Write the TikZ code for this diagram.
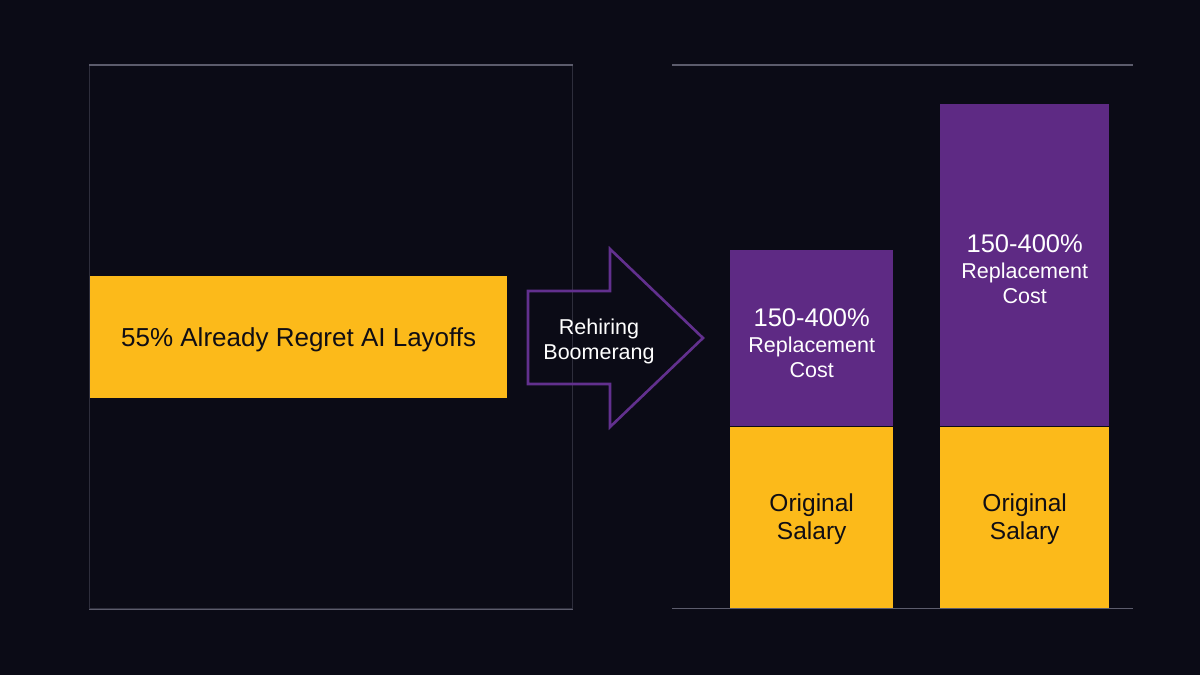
\documentclass[tikz,border=0pt]{standalone}
\usepackage{fontspec}
\setmainfont{Liberation Sans}
\usetikzlibrary{positioning}
\definecolor{bgnavy}{RGB}{11,11,22}
\definecolor{gold}{RGB}{252,186,26}
\definecolor{plum}{RGB}{94,42,132}
\definecolor{plumline}{RGB}{98,48,142}
\definecolor{frameedge}{RGB}{92,92,108}
\definecolor{framedim}{RGB}{46,46,60}
\definecolor{ink}{RGB}{16,14,20}
\begin{document}
\begin{tikzpicture}[x=1pt,y=-1pt,
    salarytext/.style={text=ink, align=center, font=\fontsize{24.5}{28}\selectfont},
    costtext/.style={text=white, align=center, font=\fontsize{21.5}{25.5}\selectfont}]
    %   Background and page size
    \fill[bgnavy] (0,0) rectangle (1200,675);
    \useasboundingbox (0,0) rectangle (1200,675);

    %   Left panel with the regret bar
    \node[draw=framedim, line width=1.3pt, rectangle, anchor=north west, inner sep=0pt, minimum width=483pt, minimum height=543pt] (leftpanel) at (89,65) {};
    \draw[frameedge, line width=1.5pt] (leftpanel.north west) -- (leftpanel.north east);
    \draw[frameedge, line width=1.5pt] (leftpanel.south west) -- (leftpanel.south east);
    \node[fill=gold, text=ink, rectangle, anchor=north west, inner sep=0pt, minimum width=417pt, minimum height=122pt, text depth=0pt, font=\fontsize{26}{30}\selectfont] (regret) at (90,276) {55\% Already Regret AI Layoffs};

    %   Arrow between the panels
    \draw[plumline, line width=2.6pt, line join=miter] (528,291) -- (610,291) -- (610,249) -- (703,338) -- (610,427) -- (610,384) -- (528,384) -- cycle;
    \node[text=white, align=center, yshift=-2.5pt, font=\fontsize{21.5}{25}\selectfont] (rehire) at (599,338.5) {Rehiring\\Boomerang};

    %   Right panel with the two cost bars
    \node[rectangle, anchor=north west, inner sep=0pt, minimum width=461pt, minimum height=543pt] (rightpanel) at (672,65) {};
    \draw[frameedge, line width=1.5pt] (rightpanel.north west) -- (rightpanel.north east);
    \node[fill=plum, anchor=north west, inner sep=0pt, minimum width=163pt, minimum height=176pt] (costa) at (730,250) {};
    \node[fill=gold, anchor=north, inner sep=0pt, minimum width=163pt, minimum height=182pt] (salarya) at (costa.south) {};
    \node[fill=plum, anchor=north west, inner sep=0pt, minimum width=169pt, minimum height=322pt] (costb) at (940,104) {};
    \node[fill=gold, anchor=north, inner sep=0pt, minimum width=169pt, minimum height=182pt] (salaryb) at (costb.south) {};
    \draw[frameedge, line width=1.5pt] (rightpanel.south west) -- (rightpanel.south east);

    %   Bar labels
    \node[costtext, yshift=-5pt] (costlabela) at (costa.center) {{\fontsize{25.5}{28}\selectfont 150-400\%}\\Replacement\\Cost};
    \node[costtext, yshift=-4pt] (costlabelb) at (costb.center) {{\fontsize{25.5}{28}\selectfont 150-400\%}\\Replacement\\Cost};
    \node[salarytext, yshift=-2pt] (salarylabela) at (salarya.center) {Original\\Salary};
    \node[salarytext, yshift=-2pt] (salarylabelb) at (salaryb.center) {Original\\Salary};
\end{tikzpicture}
\end{document}
